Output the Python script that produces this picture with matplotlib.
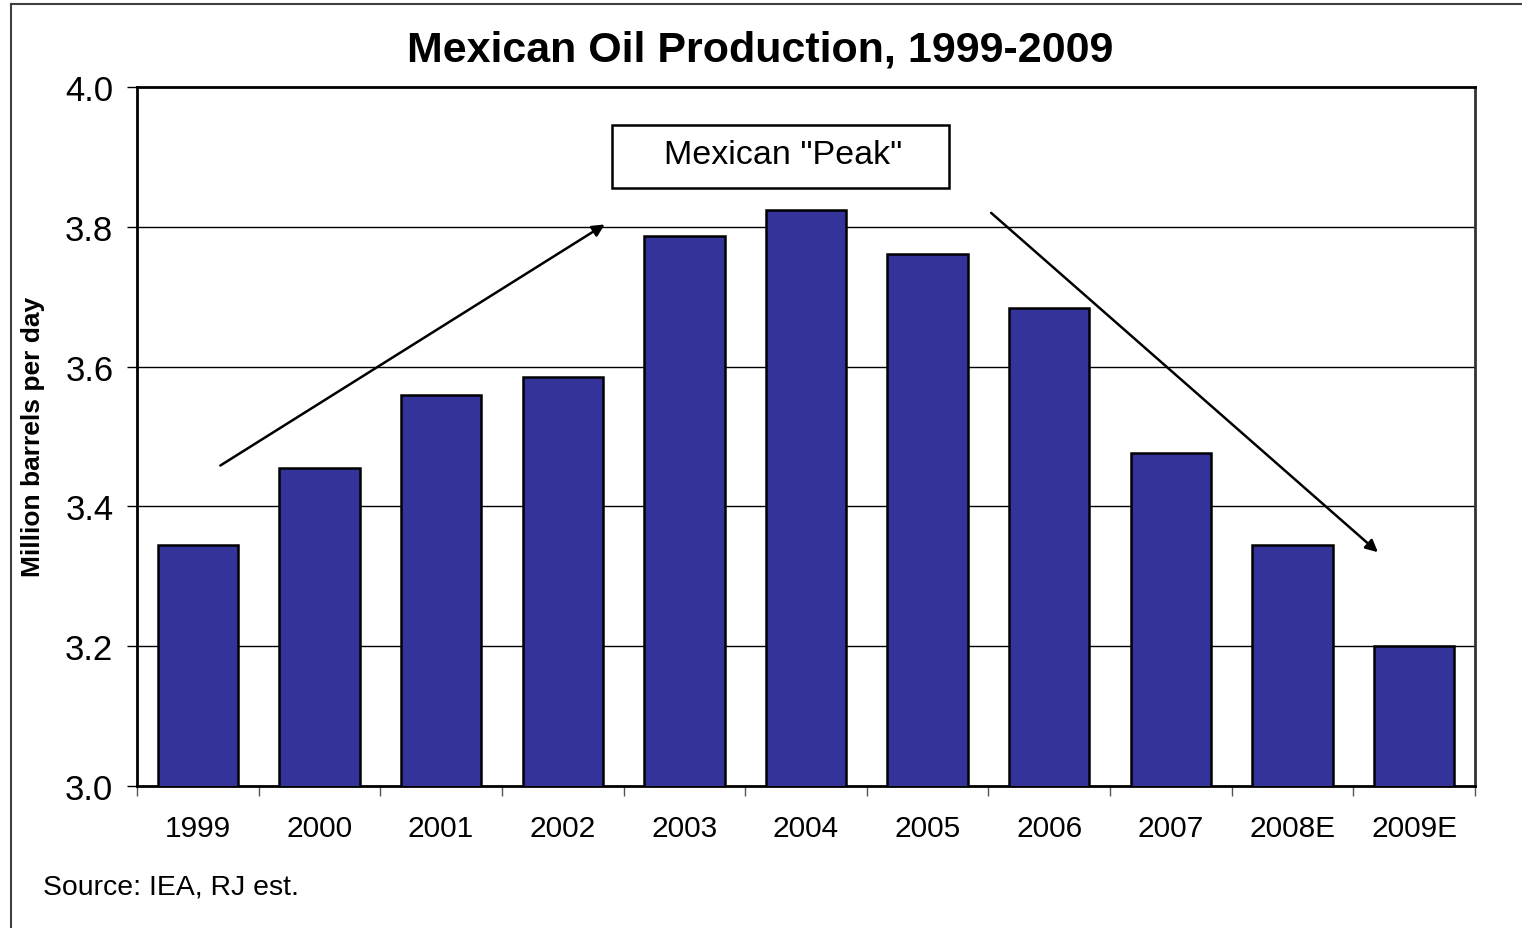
import numpy as np
from matplotlib import pyplot as plt
from matplotlib.patches import Rectangle

years = ["1999", "2000", "2001", "2002", "2003", "2004", "2005", "2006", "2007", "2008E", "2009E"]
production = [3.345, 3.455, 3.559, 3.585, 3.787, 3.824, 3.761, 3.684, 3.476, 3.345, 3.200]
y_ticks = [3.0, 3.2, 3.4, 3.6, 3.8, 4.0]

plt.rcParams["font.family"] = ["Liberation Sans", "DejaVu Sans"]

W, H = 1522, 929
fig = plt.figure(figsize=(W / 100, H / 100), dpi=100)

# outer frame (only top and left edges visible in the crop)
fig.add_artist(plt.Line2D([11 / W, 1], [1 - 5 / H, 1 - 5 / H], color="#404040", lw=1.5))
fig.add_artist(plt.Line2D([11 / W, 11 / W], [0, 1 - 5 / H], color="#404040", lw=1.5))

left, right, top, bottom = 137, 1475, 88, 787
ax = fig.add_axes([left / W, 1 - bottom / H, (right - left) / W, (bottom - top) / H])

x = np.arange(len(years))
ax.bar(x, production, width=0.66, color="#333399", edgecolor="black", linewidth=1.8, zorder=3)

ax.set_xlim(-0.5, len(years) - 0.5)
ax.set_ylim(3.0, 4.0)
ax.set_yticks(y_ticks)
ax.set_yticklabels([f"{v:.1f}" for v in y_ticks], fontsize=25)
ax.set_xticks(x)
ax.set_xticklabels(years, fontsize=21.5)
ax.tick_params(axis="x", length=0, pad=20.5)
ax.set_xticks(np.arange(-0.5, len(years)), minor=True)
ax.tick_params(axis="x", which="minor", length=7, width=1, color="#555555")
ax.tick_params(axis="y", length=7, width=1, pad=10)

for v in y_ticks[1:-1]:
    ax.axhline(v, color="black", lw=1, zorder=1)

for side in ["left", "top", "bottom", "right"]:
    ax.spines[side].set_linewidth(2)
ax.spines["right"].set_color("#333333")

fig.text(33 / W, 1 - 437 / H, "Million barrels per day", fontsize=19, fontweight="bold",
         rotation=90, ha="center", va="center")

fig.text(760 / W, 1 - 50 / H, "Mexican Oil Production, 1999-2009",
         fontsize=31, fontweight="bold", ha="center", va="center")
fig.text(43 / W, 1 - 888 / H, "Source: IEA, RJ est.", fontsize=20.4, ha="left", va="center")

# annotation box
ax.text(783 / W, 1 - 155 / H, 'Mexican "Peak"', transform=fig.transFigure,
        fontsize=24.5, ha="center", va="center", zorder=5)
fig.add_artist(Rectangle((612 / W, 1 - 189 / H), (949 - 612) / W, (189 - 126) / H,
                         transform=fig.transFigure, fill=False, edgecolor="black", lw=1.8))

# trend arrows
arrow_kw = dict(arrowstyle="-|>", color="black", lw=1.8, mutation_scale=18)
fig.add_artist(plt.Annotation("", xy=(607 / W, 1 - 224 / H), xytext=(218 / W, 1 - 468 / H),
                              xycoords="figure fraction", arrowprops=arrow_kw))
fig.add_artist(plt.Annotation("", xy=(1380 / W, 1 - 555 / H), xytext=(989 / W, 1 - 212 / H),
                              xycoords="figure fraction", arrowprops=arrow_kw))

fig.savefig("out.png", dpi=100)
